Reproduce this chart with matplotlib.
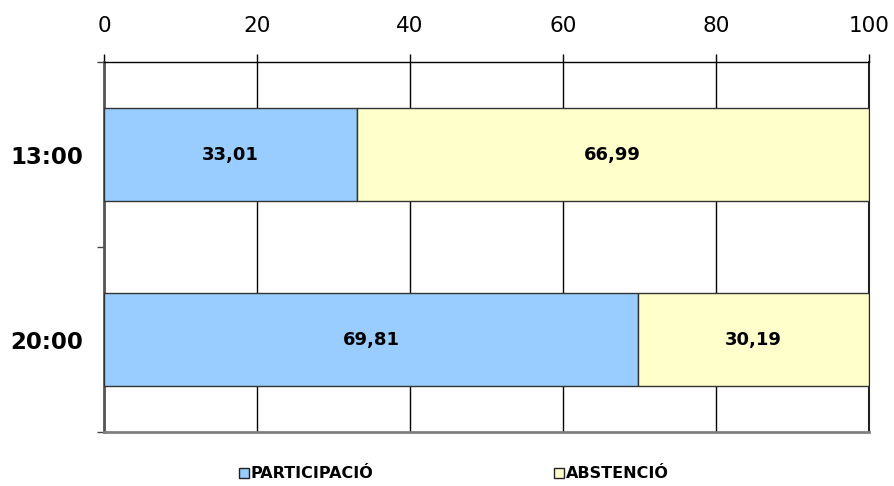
import numpy as np
import matplotlib.pyplot as plt
from matplotlib.lines import Line2D

hours = ['13:00', '20:00']
participacio = [33.01, 69.81]
abstencio = [66.99, 30.19]
legend_labels = ['PARTICIPACIÓ', 'ABSTENCIÓ']
colors = ['#99CCFF', '#FFFFCC']

fig = plt.figure(figsize=(8.95, 4.86), dpi=100)
ax = fig.add_axes([0.1162, 0.1111, 0.8547, 0.7613])

y = np.arange(len(hours)) + 0.5
ax.barh(y, participacio, height=0.5, color=colors[0], edgecolor='#333333', linewidth=1, zorder=3)
ax.barh(y, abstencio, left=participacio, height=0.5, color=colors[1], edgecolor='#333333', linewidth=1, zorder=3)

for yi, p, a in zip(y, participacio, abstencio):
    ax.text(p / 2, yi, f'{p:.2f}'.replace('.', ','), ha='center', va='center',
            fontsize=13, fontweight='bold', zorder=4)
    ax.text(p + a / 2, yi, f'{a:.2f}'.replace('.', ','), ha='center', va='center',
            fontsize=13, fontweight='bold', zorder=4)

ax.set_xlim(0, 100)
ax.set_ylim(2, 0)
ax.set_xticks(np.arange(0, 101, 20))
ax.xaxis.tick_top()
ax.tick_params(axis='x', length=6, width=1, labelsize=15.5, pad=13)
ax.grid(axis='x', color='black', linewidth=1, zorder=1)

ax.set_yticks([0, 1, 2])
ax.set_yticklabels([])
ax.set_yticks(y, minor=True)
ax.set_yticklabels(hours, minor=True, fontsize=16.5, fontweight='bold')
ax.tick_params(axis='y', which='major', length=5, width=1, color='#444444')
ax.tick_params(axis='y', which='minor', length=0, pad=15)

ax.spines['right'].set_linewidth(1.5)
ax.spines['right'].set_color('#222222')
ax.spines['top'].set_linewidth(1)
ax.spines['left'].set_linewidth(2)
ax.spines['left'].set_color('#555555')
ax.spines['bottom'].set_linewidth(2)
ax.spines['bottom'].set_color('#808080')

handles = [Line2D([], [], marker='s', linestyle='none', markersize=7,
                  markerfacecolor=c, markeredgecolor='#222222', markeredgewidth=1)
           for c in colors]
leg = fig.legend(handles, legend_labels, loc='center', bbox_to_anchor=(0.507, 0.025),
                 ncol=2, frameon=False, handlelength=0.6, handletextpad=0.15,
                 columnspacing=11.3, prop={'weight': 'bold', 'size': 11.5})

fig.savefig('out.png', dpi=100)
